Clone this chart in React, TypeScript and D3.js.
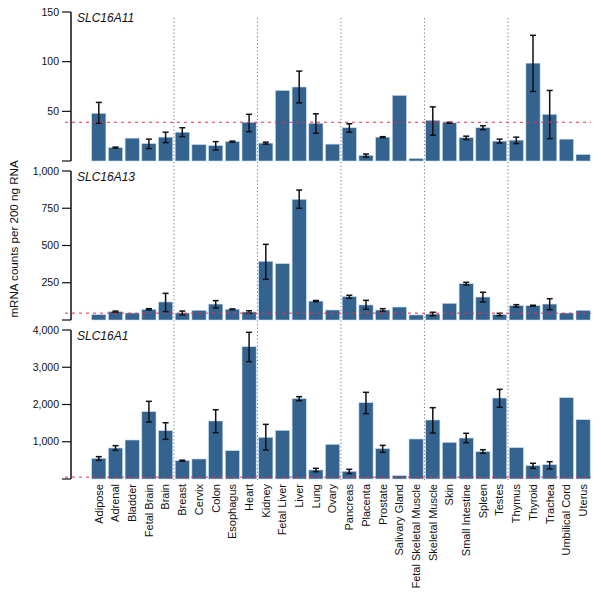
import React from 'react';
import * as d3 from 'd3';

const tissues = [
  'Adipose', 'Adrenal', 'Bladder', 'Fetal Brain', 'Brain', 'Breast', 'Cervix', 'Colon', 'Esophagus', 'Heart',
  'Kidney', 'Fetal Liver', 'Liver', 'Lung', 'Ovary', 'Pancreas', 'Placenta', 'Prostate', 'Salivary Gland',
  'Fetal Skeletal Muscle', 'Skeletal Muscle', 'Skin', 'Small Intestine', 'Spleen', 'Testes', 'Thymus', 'Thyroid',
  'Trachea', 'Umbilical Cord', 'Uterus'
];

const genes = ['SLC16A11', 'SLC16A13', 'SLC16A1'];

// mean counts per tissue
const a11Mean = [48, 13.5, 23, 17.5, 24, 29, 16.5, 15.5, 19.5, 39, 18, 71, 74.5, 38, 17, 33.5, 5.7, 24, 66, 2.5, 41, 38.5, 23.5, 33.5, 20, 21, 98.5, 47, 22, 6.5];
const a11Lo = [38, 13, null, 12.5, 18.5, 24.5, null, 11, 19, 29.5, 17, null, 58.5, 28, null, 29, 4, 23.5, null, null, 26, 38, 21.5, 31.5, 18, 17.5, 70, 22.5, null, null];
const a11Hi = [59, 14, null, 22, 29, 33.5, null, 19.5, 20, 47, 19, null, 90.5, 47.5, null, 37.5, 7, 24.5, null, null, 54.5, 39, 25, 35.5, 22, 24, 126.5, 71, null, null];

const a13Mean = [36, 56, 47, 72, 121, 47, 65, 107, 72, 54, 394, 378, 810, 127, 67, 157, 101, 67, 87, 34, 40, 112, 244, 154, 36, 96, 96, 107, 47, 65];
const a13Lo = [null, 52, null, 68, 56, 34, null, 81, 70, 45, 273, null, 750, 123, null, 146, 72, 58, null, null, 29, null, 235, 121, 29, 87, 93, 69, null, null];
const a13Hi = [null, 60, null, 76, 179, 60, null, 130, 74, 62, 508, null, 872, 131, null, 166, 132, 76, null, null, 52, null, 253, 186, 45, 103, 99, 143, null, null];

const a1Mean = [555, 832, 1047, 1807, 1297, 492, 537, 1557, 760, 3552, 1119, 1306, 2157, 242, 931, 206, 2049, 814, 90, 1074, 1584, 984, 1100, 733, 2174, 841, 358, 385, 2183, 1593];
const a1Lo = [500, 770, null, 1530, 1065, 480, null, 1243, null, 3150, 778, null, 2100, 197, null, 145, 1754, 716, null, null, 1235, null, 975, 689, 1925, null, 286, 268, null, null];
const a1Hi = [600, 895, null, 2085, 1510, 505, null, 1860, null, 3938, 1467, null, 2210, 287, null, 260, 2327, 903, null, null, 1915, null, 1227, 787, 2407, null, 422, 465, null, null];

const yMax = [150, 1000, 4000];
const yTicks = [
  [0, 50, 100, 150],
  [0, 250, 500, 750, 1000],
  [0, 1000, 2000, 3000, 4000]
];
const thresholds = [39, 46, 50];

const font = '"Liberation Sans", Arial, sans-serif';

const App = () => {
  const width = 601;
  const height = 594;
  const axisX = 71;
  const panelTops = [12, 171, 330];
  const panelH = 149;

  const x = d3.scaleBand().domain(tissues).range([90.45, 591.45]).paddingInner(0.15).paddingOuter(0.075);
  const gap = x.step() * 0.15;

  const series = [
    { mean: a11Mean, lo: a11Lo, hi: a11Hi },
    { mean: a13Mean, lo: a13Lo, hi: a13Hi },
    { mean: a1Mean, lo: a1Lo, hi: a1Hi }
  ];

  const fmt = d3.format(',');

  return (
    <svg width={width} height={height} style={{ position: 'absolute', left: 0, top: 0 }} fontFamily={font}>
      <rect width={width} height={height} fill="#fff" />

      {/* group separators */}
      {[5, 10, 15, 20, 25].map((i) => {
        const xx = (x(tissues[i]) as number) - gap / 2;
        return (
          <line key={'sep' + i} x1={xx} x2={xx} y1={18} y2={480} stroke="#777" strokeWidth={1} strokeDasharray="1.2,2.4" />
        );
      })}

      {series.map((s, p) => {
        const top = panelTops[p];
        const y = d3.scaleLinear().domain([0, yMax[p]]).range([top + panelH, top]);
        return (
          <g key={genes[p]}>
            {tissues.map((t, i) => (
              <rect
                key={t}
                x={x(t)}
                y={y(s.mean[i])}
                width={x.bandwidth()}
                height={y(0) - y(s.mean[i])}
                fill="#35638f"
                stroke="#c3daee"
                strokeWidth={0.6}
              />
            ))}
            {tissues.map((t, i) => {
              const lo = s.lo[i];
              const hi = s.hi[i];
              if (lo == null || hi == null) return null;
              const cx = (x(t) as number) + x.bandwidth() / 2;
              return (
                <g key={'e' + t} stroke="#111" strokeWidth={1.5}>
                  <line x1={cx} x2={cx} y1={y(lo)} y2={y(hi)} />
                  <line x1={cx - 3} x2={cx + 3} y1={y(hi)} y2={y(hi)} />
                  <line x1={cx - 3} x2={cx + 3} y1={y(lo)} y2={y(lo)} />
                </g>
              );
            })}
            <line
              x1={axisX - 6}
              x2={591}
              y1={y(thresholds[p])}
              y2={y(thresholds[p])}
              stroke="#e6304a"
              strokeWidth={1}
              strokeDasharray="3,4"
            />
            {/* y axis */}
            <line x1={axisX} x2={axisX} y1={y(yMax[p])} y2={y(0)} stroke="#111" strokeWidth={1.5} />
            {yTicks[p].map((v) => (
              <g key={'t' + v}>
                <line x1={axisX - 9} x2={axisX} y1={y(v)} y2={y(v)} stroke="#111" strokeWidth={1.2} />
                {v !== 0 && (
                  <text x={axisX - 12} y={y(v)} dy="0.35em" textAnchor="end" fontSize={10.5} fill="#111">
                    {fmt(v)}
                  </text>
                )}
              </g>
            ))}
            <text x={77} y={top + 10} fontSize={12} fontStyle="italic" fill="#111">
              {genes[p]}
            </text>
          </g>
        );
      })}

      {tissues.map((t) => {
        const cx = (x(t) as number) + x.bandwidth() / 2;
        return (
          <text
            key={'l' + t}
            transform={`translate(${cx},484) rotate(-90)`}
            dy="0.35em"
            textAnchor="end"
            fontSize={11}
            fill="#111"
          >
            {t}
          </text>
        );
      })}

      <text transform="translate(13.5,239) rotate(-90)" dy="0.35em" textAnchor="middle" fontSize={11.6} fill="#111">
        mRNA counts per 200 ng RNA
      </text>
    </svg>
  );
};

export default App;
